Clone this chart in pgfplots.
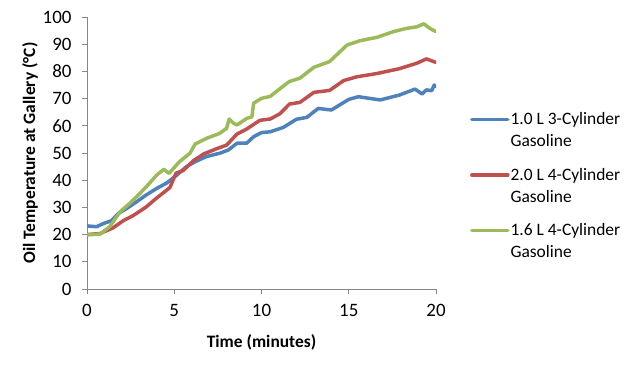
\documentclass[border=0pt]{standalone}
\usepackage{pgfplots}
\pgfplotsset{compat=1.18}
\usepackage{fontspec}
\setmainfont{Carlito}
\definecolor{cblue}{HTML}{4F81BD}
\definecolor{cred}{HTML}{C0504D}
\definecolor{cgreen}{HTML}{9BBB59}
\definecolor{caxis}{HTML}{868686}
\newcommand{\twoline}[2]{\rlap{\raisebox{-22bp}[0pt][0pt]{#2}}#1}
\begin{document}
\begin{tikzpicture}[x=1bp,y=1bp]
\useasboundingbox (0,0) rectangle (640,366);
\begin{axis}[
  at={(87bp,77bp)}, anchor=south west,
  scale only axis, width=349bp, height=272bp,
  xmin=0, xmax=20, ymin=0, ymax=100,
  xtick={0,5,10,15,20}, ytick={0,10,...,100},
  axis lines=left, axis line style={-, caxis, line width=0.8bp},
  tick style={caxis, line width=0.8bp},
  tick align=outside, major tick length=5bp,
  xtick pos=bottom, ytick pos=left,
  /pgf/number format/assume math mode=true,
  tick label style={font=\fontsize{19}{22}\selectfont},
  yticklabel style={xshift=-7bp},
  xticklabel style={yshift=-7bp},
  xlabel={\textbf{Time (minutes)}},
  ylabel={\textbf{Oil Temperature at Gallery (°C)}},
  label style={font=\fontsize{17.5}{21}\selectfont},
  xlabel style={at={(axis description cs:0.5,-0.195)}, anchor=center},
  ylabel style={at={(axis description cs:-0.163,0.5)}, anchor=center},
  legend style={at={(axis description cs:1.097,0.653)}, anchor=north west,
    draw=none, fill=none, inner sep=0pt,
    font=\fontsize{17.5}{22}\selectfont,
    nodes={inner sep=1bp},
    row sep=40bp},
  legend cell align=left,
  legend image code/.code={\draw[#1] (0bp,0bp) -- (36bp,0bp);},
  every axis plot/.append style={line width=3.5bp, line join=round, line cap=round},
]
\addplot[cblue] coordinates {(0,23.2)(0.55,22.9)(0.95,24.1)(1.4,25.1)(1.8,27.8)(2.3,29.7)(2.85,32.1)(3.4,34.6)(4.0,37)(4.55,38.9)(5.15,41.9)(5.7,45)(6.2,46.8)(6.85,48.7)(7.6,49.9)(8.1,51.1)(8.6,53.6)(9.15,53.6)(9.55,56)(10.0,57.5)(10.5,57.8)(11.25,59.4)(12.0,62.4)(12.6,63.1)(13.25,66.4)(14.0,65.8)(15.0,69.7)(15.55,70.7)(16.8,69.5)(17.9,71.3)(18.8,73.5)(19.2,71.7)(19.45,73.2)(19.75,72.9)(19.9,75)(20,74.4)};
\addlegendentry{\twoline{1.0 L 3-Cylinder}{Gasoline}}
\addplot[cred] coordinates {(0,20)(0.75,20.4)(1.5,22.5)(2.1,25.2)(2.65,27)(3.4,30.2)(4.0,33.5)(4.4,35.5)(4.75,37.3)(5.1,42.6)(5.5,43.5)(6.1,47.2)(6.7,49.7)(7.4,51.5)(8.0,52.9)(8.6,57)(9.15,58.8)(9.9,62)(10.5,62.5)(11.05,64.4)(11.6,68)(12.2,68.6)(13.0,72.3)(13.9,73)(14.7,76.6)(15.45,78)(16.6,79.2)(17.9,81)(18.9,83)(19.45,84.6)(20,83.3)};
\addlegendentry{\twoline{2.0 L 4-Cylinder}{Gasoline}}
\addplot[cgreen] coordinates {(0,19.9)(0.75,20.2)(1.3,22.9)(1.9,28.4)(2.45,31.5)(2.95,34.6)(3.4,37.6)(4.0,41.9)(4.4,44)(4.7,42.5)(5.3,46.8)(5.9,49.9)(6.2,53.3)(6.85,55.4)(7.6,57.2)(8.0,59.1)(8.15,62.5)(8.4,60.9)(8.6,60.3)(9.15,62.7)(9.45,63.3)(9.55,68.3)(10.0,70.1)(10.5,70.8)(10.85,72.6)(11.6,76.3)(12.2,77.5)(13.0,81.5)(13.9,83.6)(14.9,89.7)(15.65,91.3)(16.6,92.5)(17.55,94.6)(18.3,95.8)(18.9,96.4)(19.3,97.5)(19.65,95.8)(20,94.6)};
\addlegendentry{\twoline{1.6 L 4-Cylinder}{Gasoline}}
\end{axis}
\end{tikzpicture}
\end{document}
